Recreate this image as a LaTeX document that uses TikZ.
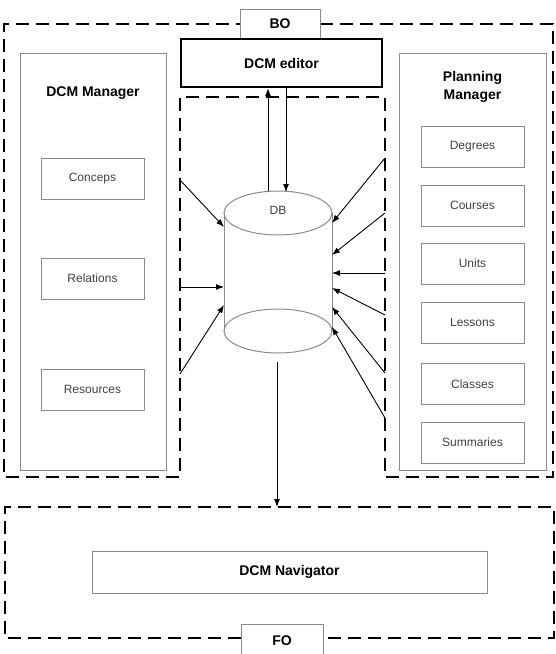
\documentclass[tikz,border=0pt]{standalone}
\usepackage{fontspec}
\setmainfont{Liberation Sans}
\usetikzlibrary{arrows.meta}
\definecolor{boxgray}{HTML}{8A8A8A}
\definecolor{txtgray}{HTML}{404040}
\tikzset{
  region/.style={line width=2pt, dash pattern=on 13pt off 7pt},
  grp/.style={draw=boxgray, line width=1pt, rectangle, inner sep=0pt},
  item/.style={draw=boxgray, line width=1pt, rectangle, inner sep=0pt,
    minimum width=103pt, minimum height=41pt, font=\fontsize{12}{14}\selectfont, text=txtgray},
  title/.style={font=\fontsize{14}{17.5}\selectfont\bfseries, align=center},
  arr/.style={line width=0.9pt, -{Latex[length=8pt,width=6pt]}},
}
\begin{document}
\begin{tikzpicture}[x=1pt,y=-1pt]
\useasboundingbox (0,0) rectangle (555,654);
% BO region
\draw[region] (320,24) -- (553,24) -- (553,477) -- (385,477) -- (385,97) -- (180,97)
  -- (180,477) -- (4,477) -- (4,24) -- (240,24);
% FO region
\draw[region] (241,638) -- (5,638) -- (5,507) -- (554,507) -- (554,638) -- (323,638);
% BO / FO labels
\node[grp, minimum width=80pt, minimum height=29pt, title] (bo) at (280,23.5) {BO};
\node[grp, minimum width=82pt, minimum height=34pt, title] (fo) at (282,641) {FO};
% DCM editor
\node[draw, line width=2.4pt, minimum width=201pt, minimum height=48pt, inner sep=0pt, title] (editor) at (281.5,63) {DCM editor};
% DCM Manager
\node[grp, minimum width=146pt, minimum height=417pt] (mgr) at (93,261.5) {};
\node[title] (mgrt) at (93,93) {DCM Manager};
\node[item] (conceps) at (92.5,178.5) {Conceps};
\node[item] (relations) at (92.5,278.5) {Relations};
\node[item] (resources) at (92.5,389.5) {Resources};
% Planning Manager
\node[grp, minimum width=147pt, minimum height=417pt] (plan) at (472.5,261.5) {};
\node[title, text height=11pt, text depth=3pt] (plant) at (472.5,95) {Planning\\Manager};
\node[item] (degrees) at (472.5,147) {Degrees};
\node[item] (courses) at (472.5,205.5) {Courses};
\node[item] (units) at (472.5,263.5) {Units};
\node[item] (lessons) at (472.5,322.5) {Lessons};
\node[item] (classes) at (472.5,384) {Classes};
\node[item] (summaries) at (472.5,442.5) {Summaries};
% DB cylinder
\node[minimum width=108pt, minimum height=162pt, inner sep=0pt] (db) at (278,272) {};
\draw[boxgray, line width=1pt] (278,213) ellipse [x radius=54pt, y radius=22pt];
\draw[boxgray, line width=1pt] (278,331) ellipse [x radius=54pt, y radius=22pt];
\draw[boxgray, line width=1pt] (224,213) -- (224,331) (332,213) -- (332,331);
\node[font=\fontsize{12}{14}\selectfont, text=txtgray] (dbt) at (278,210) {DB};
% editor <-> DB
\coordinate (dbtopA) at (268,191);
\coordinate (dbtopB) at (286,192);
\draw[arr] (dbtopA) -- (editor.south -| dbtopA);
\draw[arr] (editor.south -| dbtopB) -- (dbtopB);
% DB -> navigator region
\coordinate (dbbot) at (277,362);
\coordinate (foin) at (277,507);
\draw[arr] (dbbot) -- (foin);
% left arrows
\coordinate (l1) at (180,180); \coordinate (dl1) at (224,227);
\coordinate (l2) at (180,287); \coordinate (dl2) at (224,287);
\coordinate (l3) at (180,374); \coordinate (dl3) at (224,305);
\draw[arr] (l1) -- (dl1);
\draw[arr] (l2) -- (dl2);
\draw[arr] (l3) -- (dl3);
% right arrows
\coordinate (r1) at (385,158); \coordinate (dr1) at (332,223);
\coordinate (r2) at (385,213); \coordinate (dr2) at (332,255);
\coordinate (r3) at (385,273); \coordinate (dr3) at (332,273);
\coordinate (r4) at (385,315); \coordinate (dr4) at (332,288);
\coordinate (r5) at (385,373); \coordinate (dr5) at (332,307);
\coordinate (r6) at (385,418); \coordinate (dr6) at (332,327);
\foreach \i in {1,...,6} {\draw[arr] (r\i) -- (dr\i);}
% DCM Navigator
\node[grp, minimum width=395pt, minimum height=42pt, title] (nav) at (289.5,572) {DCM Navigator};
\end{tikzpicture}
\end{document}
